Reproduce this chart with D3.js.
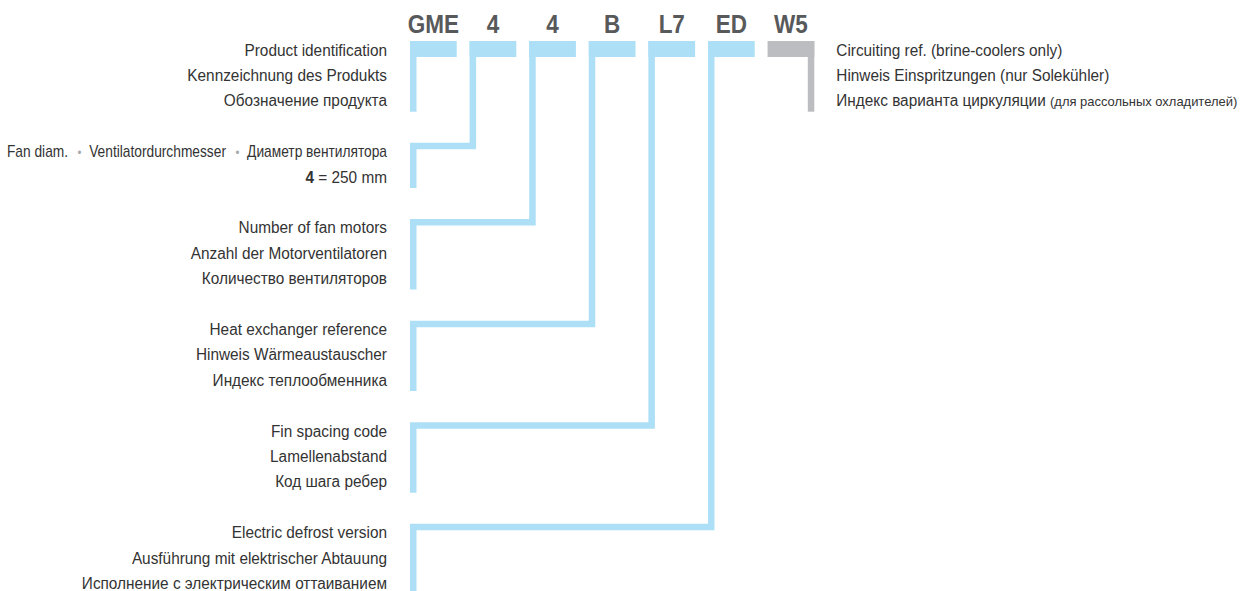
<!DOCTYPE html>
<html>
<head>
<meta charset="utf-8">
<script src="https://cdn.jsdelivr.net/npm/d3@7"></script>
<style>
  body { margin: 0; background: #fff; }
  svg { display: block; }
  text { font-family: "Liberation Sans", Arial, sans-serif; }
</style>
</head>
<body>
<svg id="chart" width="1247" height="591"></svg>
<script>
var W = 1247, H = 591;

// type code segments, left to right
var codes = ["GME", "4", "4", "B", "L7", "ED", "W5"];

// explanation lines per code (the last one goes on the right side)
var descriptions = [
  ["Product identification", "Kennzeichnung des Produkts", "Обозначение продукта"],
  [["Fan diam.", "Ventilatordurchmesser", "Диаметр вентилятора"], ["4", "= 250 mm"]],
  ["Number of fan motors", "Anzahl der Motorventilatoren", "Количество вентиляторов"],
  ["Heat exchanger reference", "Hinweis Wärmeaustauscher", "Индекс теплообменника"],
  ["Fin spacing code", "Lamellenabstand", "Код шага ребер"],
  ["Electric defrost version", "Ausführung mit elektrischer Abtauung", "Исполнение с электрическим оттаиванием"],
  ["Circuiting ref. (brine-coolers only)", "Hinweis Einspritzungen (nur Solekühler)", ["Индекс варианта циркуляции", "(для рассольных охладителей)"]]
];

var BLUE = "#addff7", GREY = "#bcbdc1";
var LINE_H = 25.4, STEM = 6.5, BAR = 7, BLOCK_H = 16;
var TOP = 41, TEXT_RIGHT = 387;
var NARROW = 0.96;   // the original face is a bit narrower than Arial

var svg = d3.select("#chart");

var x = d3.scaleBand()
  .domain(d3.range(codes.length))
  .range([410, 814.3])
  .paddingInner(0.216)
  .paddingOuter(0);

// line index -> y of the row top
var y = d3.scaleLinear().domain([0, 1]).range([TOP, TOP + LINE_H]);

// where every left row starts (in lines), one blank line between groups
var rowStart = [];
var acc = 0;
for (var i = 0; i < codes.length - 1; i++) {
  rowStart.push(acc);
  acc += descriptions[i].length + 1;
}

// header codes
svg.selectAll("g.code")
  .data(codes)
  .enter().append("g")
  .attr("class", "code")
  .attr("transform", (d, i) => "translate(" + (x(i) + x.bandwidth() / 2) + ",33) scale(0.9,1)")
  .append("text")
  .attr("text-anchor", "middle")
  .style("font-size", "25px")
  .style("font-weight", "bold")
  .style("fill", "#58595b")
  .text(d => d);

// blocks under the codes
svg.selectAll("rect.block")
  .data(codes)
  .enter().append("rect")
  .attr("class", "block")
  .attr("x", (d, i) => x(i))
  .attr("y", TOP)
  .attr("width", x.bandwidth())
  .attr("height", BLOCK_H)
  .style("fill", (d, i) => i === codes.length - 1 ? GREY : BLUE);

// connectors
var left = x(0) + STEM / 2;
codes.forEach(function(c, i) {
  var p;
  if (i === codes.length - 1) {
    var sx = x(i) + x.bandwidth() - STEM / 2;
    p = "M" + sx + "," + TOP + "V" + (y(3) - 5.5);
    svg.append("path").attr("d", p)
      .style("fill", "none").style("stroke", GREY).style("stroke-width", STEM);
    return;
  }
  var top = y(rowStart[i]);
  var end = y(rowStart[i] + descriptions[i].length) - 5.5;
  if (i === 0) {
    p = "M" + left + "," + TOP + "V" + end;
  } else {
    var stemX = x(i) + STEM / 2;
    p = "M" + stemX + "," + TOP + "V" + (top + BAR / 2) + "H" + left + "V" + (i === codes.length - 2 ? H : end);
  }
  svg.append("path").attr("d", p)
    .style("fill", "none").style("stroke", BLUE).style("stroke-width", STEM)
    .style("stroke-linejoin", "miter");
});

// descriptions
function addLine(xx, yy, anchor, sx) {
  return svg.append("g")
    .attr("transform", "translate(" + xx + "," + yy + ") scale(" + sx + ",1)")
    .append("text")
    .attr("text-anchor", anchor)
    .style("font-size", "16px")
    .style("fill", "#333");
}

codes.forEach(function(c, i) {
  var last = i === codes.length - 1;
  var start = last ? 0 : rowStart[i];
  var xx = last ? x(i) + x.bandwidth() + 22 : TEXT_RIGHT;
  var anchor = last ? "start" : "end";
  descriptions[i].forEach(function(line, j) {
    var yy = y(start + j) + 14.5;
    if (typeof line === "string") {
      addLine(xx, yy, anchor, NARROW).text(line);
    } else if (i === 1 && j === 0) {
      var t = addLine(xx, yy, anchor, 0.86);
      line.forEach(function(part, k) {
        if (k > 0) {
          t.append("tspan").attr("dx", 11).text("•")
            .style("fill", "#a7a9ac").style("font-size", "13px");
          t.append("tspan").attr("dx", 9).text(part);
        } else {
          t.append("tspan").text(part);
        }
      });
    } else if (i === 1 && j === 1) {
      var t2 = addLine(xx, yy, anchor, NARROW);
      t2.append("tspan").text(line[0]).style("font-weight", "bold");
      t2.append("tspan").text(" " + line[1]);
    } else {
      var t3 = addLine(xx, yy, anchor, NARROW);
      t3.append("tspan").text(line[0] + " ");
      t3.append("tspan").text(line[1]).style("font-size", "13.5px");
    }
  });
});
</script>
</body>
</html>
